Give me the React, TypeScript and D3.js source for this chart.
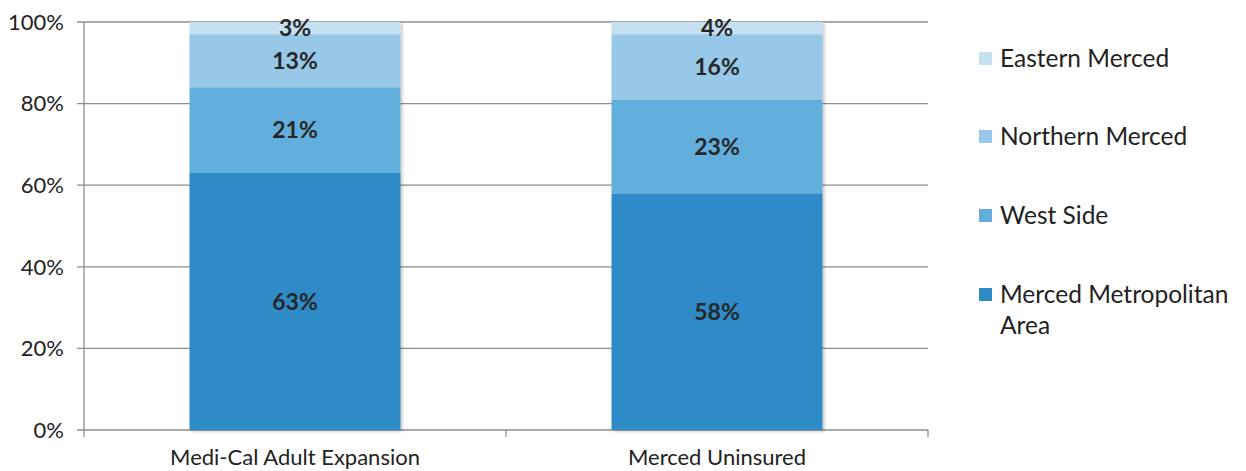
import React from "react";
import * as d3 from "d3";

const categories = ["Medi-Cal Adult Expansion", "Merced Uninsured"];
const seriesNames = ["Merced Metropolitan Area", "West Side", "Northern Merced", "Eastern Merced"];
const metro = [63, 58];
const westSide = [21, 23];
const northern = [13, 16];
const eastern = [3, 4];
const yTicks = [0, 20, 40, 60, 80, 100];
const colors = ["#2E8BC8", "#62AEDD", "#98C8E7", "#C4E0F1"];

const W = 1246;
const H = 471;
const margin = { left: 84, right: 318, top: 22, bottom: 41 };

export default function App() {
  const values = [metro, westSide, northern, eastern];
  const x = d3
    .scaleBand()
    .domain(categories)
    .range([margin.left, W - margin.right])
    .paddingInner(0.5)
    .paddingOuter(0.25);
  const y = d3.scaleLinear().domain([0, 100]).range([H - margin.bottom, margin.top]).clamp(true);

  const rows = categories.map((c, i) => {
    const r: any = { cat: c };
    seriesNames.forEach((s, j) => (r[s] = values[j][i]));
    return r;
  });
  const stacked = d3.stack<any>().keys(seriesNames)(rows);
  const font = "Lato, 'Open Sans', sans-serif";
  const x0 = margin.left;
  const x1 = W - margin.right;
  const step = x.step();
  const xTickPos = [x0, x0 + step, x1];
  const legendY = [294, 215, 136, 58];

  return (
    <svg width={W} height={H} style={{ position: "absolute", left: 0, top: 0, background: "#fff" }}>
      <defs>
        <filter id="sh" x="-5%" y="-5%" width="115%" height="115%">
          <feDropShadow dx="2" dy="1.5" stdDeviation="1.5" floodColor="#000" floodOpacity="0.22" />
        </filter>
      </defs>
      {yTicks.map((t) => (
        <g key={t}>
          <line x1={x0 - 7} x2={x1} y1={y(t)} y2={y(t)} stroke="#8E8E8E" strokeWidth={1.3} />
          <text x={x0 - 20} y={y(t)} dy="0.35em" textAnchor="end" fontFamily={font} fontSize={22} fill="#222">
            {t}%
          </text>
        </g>
      ))}
      <line x1={x0} x2={x0} y1={y(100)} y2={y(0)} stroke="#8E8E8E" strokeWidth={1.3} />
      {xTickPos.map((p, i) => (
        <line key={i} x1={p} x2={p} y1={y(0)} y2={y(0) + 7} stroke="#8E8E8E" strokeWidth={1.3} />
      ))}
      {categories.map((c, i) => (
        <g key={c} filter="url(#sh)">
          {stacked.map((layer, j) => (
            <rect
              key={layer.key}
              x={x(c)}
              width={x.bandwidth()}
              y={y(layer[i][1])}
              height={y(layer[i][0]) - y(layer[i][1])}
              fill={colors[j]}
            />
          ))}
        </g>
      ))}
      {stacked.map((layer) =>
        layer.map((d, i) => (
          <text
            key={layer.key + i}
            x={(x(categories[i]) as number) + x.bandwidth() / 2}
            y={y((d[0] + Math.min(d[1], 100)) / 2)}
            dy="0.36em"
            textAnchor="middle"
            fontFamily={font}
            fontWeight="bold"
            fontSize={23}
            fill="#262626"
          >
            {d[1] - d[0]}%
          </text>
        ))
      )}
      {categories.map((c) => (
        <text
          key={c}
          x={(x(c) as number) + x.bandwidth() / 2}
          y={465}
          textAnchor="middle"
          fontFamily={font}
          fontSize={22}
          fill="#222"
        >
          {c}
        </text>
      ))}
      {seriesNames.map((s, j) => (
        <g key={s} transform={`translate(979,${legendY[j]})`}>
          <rect x={0} y={-6} width={13} height={13} fill={colors[j]} />
          <text x={21} y={0} dy="0.35em" fontFamily={font} fontSize={24.5} fill="#222">
            {j === 0 ? (
              <>
                <tspan x={21}>Merced Metropolitan</tspan>
                <tspan x={21} dy="1.3em">Area</tspan>
              </>
            ) : (
              s
            )}
          </text>
        </g>
      ))}
    </svg>
  );
}
